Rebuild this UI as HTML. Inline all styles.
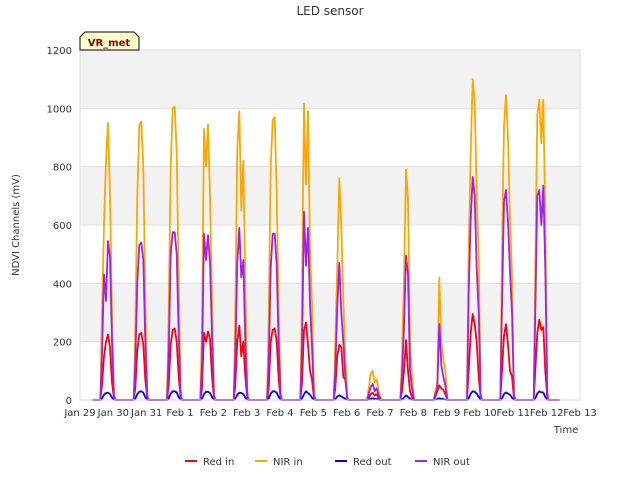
<!DOCTYPE html>
<html><head><meta charset="utf-8"><style>
body{margin:0;background:#fff;}
svg text{font-family:"DejaVu Sans","Liberation Sans",sans-serif;}
</style></head><body>
<svg id="chart" width="640" height="480">
<g id="bg"></g>
<g id="grid"></g>
<g id="series"></g>
<g id="axes"></g>
<text x="330" y="15" text-anchor="middle" font-size="12" fill="#333">LED sensor</text>
<text transform="translate(19,225) rotate(-90)" text-anchor="middle" font-size="10" fill="#333">NDVI Channels (mV)</text>
<text x="566" y="433" text-anchor="middle" font-size="10" fill="#333">Time</text>
<g>
<path d="M80,50 L80,37 L85,32 L134,32 L139,37 L139,50 Z" fill="#ffffcc" stroke="#000" stroke-width="1"/>
<text x="109" y="46" text-anchor="middle" font-size="10" font-weight="bold" fill="#8b0000">VR_met</text>
</g>
<g id="legend"></g>
</svg>
<script>
const yTicks=[0,200,400,600,800,1000,1200];
const xTickLabels=["Jan 29","Jan 30","Jan 31","Feb 1","Feb 2","Feb 3","Feb 4","Feb 5","Feb 6","Feb 7","Feb 8","Feb 9","Feb 10","Feb 11","Feb 12","Feb 13"];
const sampleOffsets=[0.66,0.72,0.78,0.84,0.90,0.96,1.02];
const seriesNames=["Red in","NIR in","Red out","NIR out"];
const seriesColors=["#ff0000","#ffa500","#0000ff","#a020f0"];
const redIn=[
[50,150,200,225,180,60,5],[40,170,225,230,190,70,5],[50,190,240,245,200,80,5],[40,230,200,235,210,80,5],
[50,200,255,150,200,80,5],[40,200,240,245,200,70,5],[60,240,265,190,100,70,5],[40,150,190,180,80,70,5],
[5,20,25,15,20,5,1],[30,100,205,100,30,10,1],[10,30,50,40,35,20,1],[100,230,295,260,200,80,5],
[100,220,260,190,100,80,5],[100,230,275,240,250,100,5]];
const nirIn=[
[300,600,820,950,700,300,20],[250,700,940,955,800,350,20],[300,800,1000,1005,850,400,30],[250,930,800,945,700,350,20],
[300,860,990,650,820,400,30],[280,800,960,970,710,300,20],[350,1015,740,990,520,330,30],[200,460,760,600,340,150,10],
[40,90,100,60,70,30,5],[150,410,790,690,200,80,5],[30,60,420,200,140,100,5],[500,850,1100,1025,700,490,20],
[500,940,1045,900,620,430,20],[450,980,1030,880,1030,620,30]];
const redOut=[
[5,18,24,25,20,8,1],[5,20,28,30,25,10,1],[5,22,30,30,26,10,1],[5,20,28,28,24,10,1],
[5,18,25,24,20,8,1],[5,22,30,30,25,10,1],[5,20,30,24,18,8,1],[3,12,16,12,8,4,1],
[1,4,6,4,3,1,0],[2,8,16,10,4,1,0],[1,3,6,4,3,1,0],[6,22,30,28,22,10,1],
[6,20,26,22,18,8,1],[6,22,30,26,26,10,1]];
const nirOut=[
[150,430,340,545,490,200,10],[120,400,530,540,480,200,10],[150,500,575,575,500,220,10],[120,570,480,565,470,220,10],
[150,470,590,420,480,200,10],[120,450,570,570,460,180,10],[170,645,460,590,330,180,10],[100,320,470,300,200,80,5],
[20,45,55,30,40,15,3],[80,250,495,430,100,40,3],[20,40,260,120,80,50,3],[370,620,765,700,450,300,10],
[320,680,720,610,440,300,10],[300,700,720,600,735,450,10]];
const allSeries=[redIn,nirIn,redOut,nirOut];

const NS="http://www.w3.org/2000/svg";
const L=80,R=580,T=50,B=400;
const xScale=d=>L+(d/15)*(R-L);
const yScale=v=>B-(v/1200)*(B-T);
function mk(tag,attrs,parent){const e=document.createElementNS(NS,tag);for(const k in attrs)e.setAttribute(k,attrs[k]);parent.appendChild(e);return e;}

const bg=document.getElementById('bg');
mk('rect',{x:L,y:T,width:R-L,height:B-T,fill:'#fff',stroke:'#ddd'},bg);
for(let i=0;i<yTicks.length-1;i++){
  if(i%2===1){
    const r=mk('rect',{x:L,y:yScale(yTicks[i+1]),width:R-L,height:yScale(yTicks[i])-yScale(yTicks[i+1]),fill:'#f2f2f2'},bg);
    
    
  }
}
const grid=document.getElementById('grid');
const axes=document.getElementById('axes');
yTicks.forEach(v=>{
  const l=mk('line',{x1:L,x2:R,y1:yScale(v),y2:yScale(v),stroke:'#ddd','stroke-width':1},grid);
  
  
  const t=mk('text',{x:L-8,y:yScale(v)+4,'text-anchor':'end','font-size':10,fill:'#333'},axes);
  t.textContent=v;
  
  
});
xTickLabels.forEach((s,i)=>{
  const t=mk('text',{x:xScale(i),y:416,'text-anchor':'middle','font-size':10,fill:'#333'},axes);
  t.textContent=s;
  
  
});
mk('rect',{x:L,y:T,width:R-L,height:B-T,fill:'none',stroke:'#ddd'},axes);

const sg=document.getElementById('series');
allSeries.forEach((ser,si)=>{
  let pts=[[xScale(0.38),yScale(0)]];
  ser.forEach((day,d)=>{
    pts.push([xScale(d+0.61),yScale(0)]);
    day.forEach((v,k)=>pts.push([xScale(d+sampleOffsets[k]),yScale(v)]));
    pts.push([xScale(d+1.07),yScale(0)]);
  });
  pts.push([xScale(14.38),yScale(0)]);
  const p=mk('polyline',{points:pts.map(p=>p[0].toFixed(1)+','+p[1].toFixed(1)).join(' '),fill:'none',stroke:seriesColors[si],'stroke-width':1.8,'stroke-linejoin':'round'},sg);
  
  
});

const lg=document.getElementById('legend');
const legX=[185,255,335,415];
seriesNames.forEach((n,i)=>{
  const g=mk('g',{},lg);
  
  
  mk('line',{x1:legX[i],x2:legX[i]+12,y1:461,y2:461,stroke:seriesColors[i],'stroke-width':2},g);
  const t=mk('text',{x:legX[i]+18,y:465,'font-size':10,fill:'#333'},g);
  t.textContent=n;
});
</script>
</body></html>
